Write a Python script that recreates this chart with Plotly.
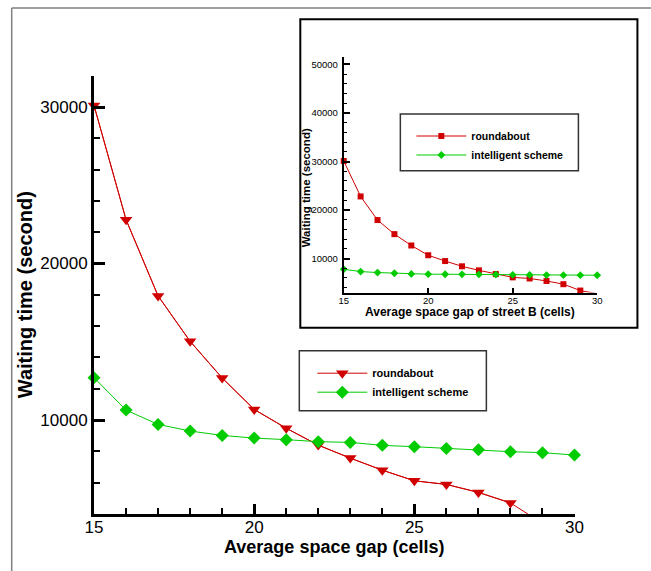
import plotly.graph_objects as go

W, H = 651, 571

# ---------------- data ----------------
gap = list(range(15, 31))
roundabout = [30100, 22800, 17930, 15030, 12690, 10680, 9480, 8400,
              7570, 6800, 6120, 5890, 5380, 4710, 3400, 2750]
intelligent_main = [12710, 10640, 9725, 9300, 9020, 8850, 8750, 8620,
                    8575, 8385, 8300, 8190, 8110, 7980, 7920, 7765]
intelligent_streetB = [7790, 7310, 7110, 6970, 6830, 6770, 6760, 6750,
                       6720, 6690, 6650, 6630, 6600, 6580, 6570, 6560]
main_x_ticks = [15, 20, 25, 30]
main_y_ticks = [10000, 20000, 30000]
inset_x_ticks = [15, 20, 25, 30]
inset_y_ticks = [10000, 20000, 30000, 40000, 50000]
main_y_range = [4000, 32000]
inset_y_range = [3000, 51600]

RED = "#d00000"
GREEN = "#00cc00"
FONT = "Liberation Sans, Arial, sans-serif"

# horizontal placement correction measured from the rendered page
X_OFF, X_SCALE = 8.8, 0.972


def fx(p):
    return (p - X_OFF) / (W * X_SCALE)


def fy(p):
    return 1 - p / H


fig = go.Figure()

# main plot: line through every point, markers only where inside the axis range
vis_x = [x for x, y in zip(gap, roundabout) if y >= main_y_range[0]]
vis_y = [y for y in roundabout if y >= main_y_range[0]]
fig.add_trace(go.Scatter(x=gap, y=roundabout, mode="lines",
                         line=dict(color=RED, width=1), showlegend=False,
                         xaxis="x", yaxis="y", hoverinfo="skip"))
fig.add_trace(go.Scatter(x=vis_x, y=vis_y, mode="lines+markers", name="roundabout",
                         line=dict(color=RED, width=1),
                         marker=dict(symbol="triangle-down", size=11, color=RED),
                         cliponaxis=False, xaxis="x", yaxis="y", legend="legend"))
fig.add_trace(go.Scatter(x=gap, y=intelligent_main, mode="lines+markers",
                         name="intelligent scheme",
                         line=dict(color=GREEN, width=1),
                         marker=dict(symbol="diamond", size=10, color=GREEN),
                         cliponaxis=False, xaxis="x", yaxis="y", legend="legend"))

# inset plot
fig.add_trace(go.Scatter(x=gap, y=roundabout, mode="lines+markers", name="roundabout",
                         line=dict(color=RED, width=1),
                         marker=dict(symbol="square", size=6, color=RED),
                         cliponaxis=False, xaxis="x2", yaxis="y2", legend="legend2"))
fig.add_trace(go.Scatter(x=gap, y=intelligent_streetB, mode="lines+markers",
                         name="intelligent scheme",
                         line=dict(color=GREEN, width=1),
                         marker=dict(symbol="diamond", size=6, color=GREEN),
                         cliponaxis=False, xaxis="x2", yaxis="y2", legend="legend2"))

axis_common = dict(showgrid=False, zeroline=False, showline=True, linecolor="black",
                   ticks="inside", tickcolor="black", mirror=False)

fig.update_layout(
    width=W, height=H, autosize=False,
    margin=dict(l=0, r=0, t=0, b=0),
    paper_bgcolor="white", plot_bgcolor="rgba(0,0,0,0)",
    font=dict(family=FONT, color="black"),
    xaxis=dict(domain=[fx(93.8), fx(574.1)], range=[15, 30], anchor="y",
               tickvals=main_x_ticks, ticktext=[str(v) for v in main_x_ticks],
               linewidth=3, ticklen=10, tickwidth=3, ticklabelstandoff=-4,
               minor=dict(ticks="inside", dtick=1, tick0=15, ticklen=6, tickwidth=1.5,
                          tickcolor="black"),
               tickfont=dict(size=17, family=FONT, color="black"), **axis_common),
    yaxis=dict(domain=[fy(514), fy(75.7)], range=main_y_range, anchor="x",
               tickvals=main_y_ticks, ticktext=[str(v) for v in main_y_ticks],
               linewidth=3, ticklen=11, tickwidth=3,
               minor=dict(ticks="inside", dtick=2000, tick0=0, ticklen=6, tickwidth=1.5,
                          tickcolor="black"),
               tickfont=dict(size=17, family=FONT, color="black"), **axis_common),
    xaxis2=dict(domain=[fx(343.4), fx(596.8)], range=[15, 30], anchor="y2",
                tickvals=inset_x_ticks, ticktext=[str(v) for v in inset_x_ticks],
                linewidth=2, ticklen=5, tickwidth=1.5, ticklabelstandoff=-2,
                tickfont=dict(size=9.5, family=FONT, color="black"), **axis_common),
    yaxis2=dict(domain=[fy(292.5), fy(56.7)], range=inset_y_range, anchor="x2",
                tickvals=inset_y_ticks, ticktext=[str(v) for v in inset_y_ticks],
                linewidth=2, ticklen=6, tickwidth=1.5, ticklabelstandoff=2,
                minor=dict(ticks="inside", dtick=2000, tick0=0, ticklen=3.5, tickwidth=1,
                           tickcolor="black"),
                tickfont=dict(size=9.5, family=FONT, color="black"), **axis_common),
    legend=dict(x=fx(312), y=fy(358.7), xanchor="left", yanchor="top",
                bgcolor="rgba(0,0,0,0)", borderwidth=0, itemwidth=50,
                font=dict(size=11, family=FONT, color="black", weight="bold"),
                tracegroupgap=0),
    legend2=dict(x=fx(411), y=fy(121.5), xanchor="left", yanchor="top",
                 bgcolor="rgba(0,0,0,0)", borderwidth=0, itemwidth=50,
                 font=dict(size=10.5, family=FONT, color="black", weight="bold"),
                 tracegroupgap=0),
    shapes=[
        # outer frame (left and top edges)
        dict(type="line", xref="paper", yref="paper", x0=fx(11.5), y0=fy(8), x1=fx(11.5), y1=0,
             line=dict(color="#808080", width=1.5), layer="below"),
        dict(type="line", xref="paper", yref="paper", x0=fx(11.5), y0=fy(8), x1=fx(651),
             y1=fy(8), line=dict(color="#808080", width=1.5), layer="below"),
        # inset frame
        dict(type="rect", xref="paper", yref="paper", x0=fx(300), y0=fy(19.3), x1=fx(637),
             y1=fy(327.7), line=dict(color="black", width=2), layer="below"),
        # main legend box
        dict(type="rect", xref="paper", yref="paper", x0=fx(299), y0=fy(350.7), x1=fx(486),
             y1=fy(410.8), line=dict(color="#333333", width=1.5), layer="below"),
        # inset legend box
        dict(type="rect", xref="paper", yref="paper", x0=fx(400), y0=fy(114), x1=fx(578),
             y1=fy(170.8), line=dict(color="#333333", width=1.5), layer="below"),
    ],
    annotations=[
        dict(text="Waiting time (second)", x=fx(25), y=fy(295), xref="paper", yref="paper",
             textangle=-90, showarrow=False, xanchor="center", yanchor="middle",
             font=dict(size=20, family=FONT, color="black", weight="bold")),
        dict(text="Average space gap (cells)", x=fx(334), y=fy(546.5), xref="paper",
             yref="paper", showarrow=False, xanchor="center", yanchor="middle",
             font=dict(size=18, family=FONT, color="black", weight="bold")),
        dict(text="Waiting time (second)", x=fx(306), y=fy(188), xref="paper", yref="paper",
             textangle=-90, showarrow=False, xanchor="center", yanchor="middle",
             font=dict(size=11.5, family=FONT, color="black", weight="bold")),
        dict(text="Average space gap of street B (cells)", x=fx(470), y=fy(311.5),
             xref="paper", yref="paper", showarrow=False, xanchor="center", yanchor="middle",
             font=dict(size=12, family=FONT, color="black", weight="bold")),
    ],
)

fig.write_html(
    "out.html",
    config={"responsive": False, "displayModeBar": False},
    post_script="document.body.style.margin='0';document.body.style.overflow='hidden';",
)
